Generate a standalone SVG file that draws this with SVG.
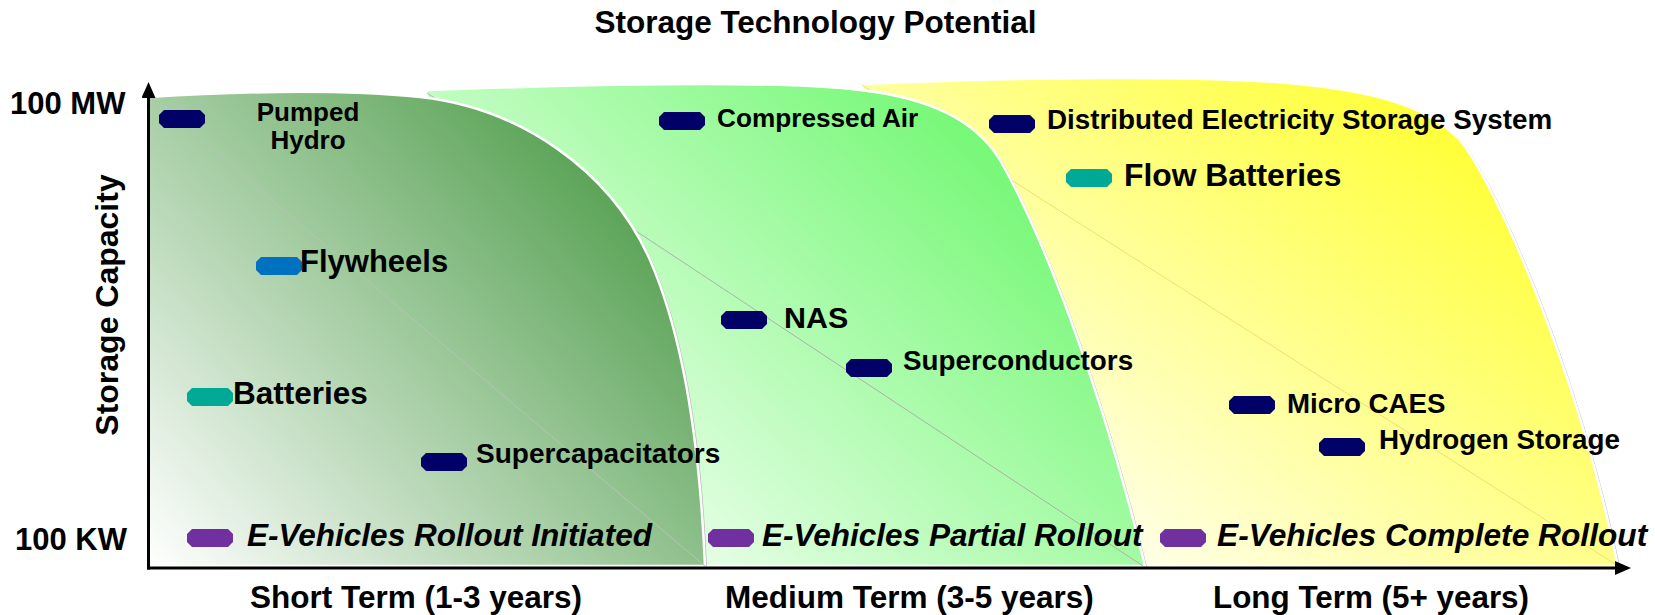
<svg xmlns="http://www.w3.org/2000/svg" width="1655" height="615" viewBox="0 0 1655 615">
<defs>
<style>
text{font-family:"Liberation Sans",Arial,Helvetica,sans-serif;font-weight:bold;fill:#000}
.it{font-style:italic}
.navy{fill:#000066}
.teal{fill:#00a896}
.blue{fill:#0070c0}
.purple{fill:#7030a0}
.shadow{fill:#b8b8b8}
.edge{stroke:#ffffff;stroke-width:2.5}
.diag{fill:none;stroke-width:1}
.axis{stroke:#000;stroke-width:3;fill:none}
</style>
<linearGradient id="gDark" gradientUnits="userSpaceOnUse" x1="148" y1="566" x2="600" y2="150">
<stop offset="0" stop-color="#ffffff"/><stop offset="1" stop-color="#56a152"/>
</linearGradient>
<linearGradient id="gGreen" gradientUnits="userSpaceOnUse" x1="620" y1="566" x2="1010" y2="150">
<stop offset="0" stop-color="#f2fff2"/><stop offset="1" stop-color="#74f874"/>
</linearGradient>
<linearGradient id="gYellow" gradientUnits="userSpaceOnUse" x1="1080" y1="566" x2="1420" y2="120">
<stop offset="0" stop-color="#fffff4"/><stop offset="1" stop-color="#ffff3c"/>
</linearGradient>
<path id="pill" d="M5,0H41L46,5V13L41,18H5L0,13V5Z"/>
<marker id="arrow" markerUnits="userSpaceOnUse" viewBox="0 0 16 14" markerWidth="16" markerHeight="14" refX="1" refY="7" orient="auto">
<path d="M0,0L16,7L0,14Z" fill="#000"/>
</marker>
</defs>

<g id="regions">
<g id="region-long">
<path class="shadow" transform="translate(2,1)" d="M862,84C1000,78 1200,74 1300,84C1380,92 1430,108 1460,140C1500,190 1580,380 1618,566L862,566Z"/>
<path class="edge" fill="url(#gYellow)" d="M862,84C1000,78 1200,74 1300,84C1380,92 1430,108 1460,140C1500,190 1580,380 1618,566L862,566Z"/>
<line class="diag" stroke="#eee070" x1="862" y1="85" x2="1618" y2="566"/>
</g>
<g id="region-medium">
<path class="shadow" transform="translate(2,1)" d="M427,90C600,84 780,80 860,90C930,98 975,120 1000,160C1040,230 1100,380 1145,566L430,566Z"/>
<path class="edge" fill="url(#gGreen)" d="M427,90C600,84 780,80 860,90C930,98 975,120 1000,160C1040,230 1100,380 1145,566L430,566Z"/>
<line class="diag" stroke="#a8b4a8" x1="427" y1="93" x2="1143" y2="566"/>
</g>
<g id="region-short">
<path class="shadow" transform="translate(2,1)" d="M148,97C230,92 330,88 420,97C520,108 610,170 650,260C685,340 700,450 705,566L148,566Z"/>
<path class="edge" fill="url(#gDark)" d="M148,97C230,92 330,88 420,97C520,108 610,170 650,260C685,340 700,450 705,566L148,566Z"/>
<line class="diag" stroke="#b4c4b4" x1="150" y1="97" x2="705" y2="566"/>
</g>
</g>

<g id="axes">
<line class="axis" x1="148.5" y1="569.5" x2="148.5" y2="97" marker-end="url(#arrow)"/>
<line class="axis" x1="147" y1="568" x2="1616" y2="568" marker-end="url(#arrow)"/>
</g>

<g id="labels">
<text x="815.5" y="33" font-size="31.5" text-anchor="middle">Storage Technology Potential</text>
<text x="10" y="114" font-size="31">100 MW</text>
<text x="15" y="550" font-size="31">100 KW</text>
<text transform="translate(118,305) rotate(-90)" font-size="32" text-anchor="middle">Storage Capacity</text>
<text x="250" y="608" font-size="31.5">Short Term (1-3 years)</text>
<text x="725" y="608" font-size="31.5">Medium Term (3-5 years)</text>
<text x="1213" y="608" font-size="31.4">Long Term (5+ years)</text>
</g>

<g id="node-pumped-hydro">
<use href="#pill" class="navy" x="159" y="110"/>
<text x="308" y="121" font-size="26" text-anchor="middle">Pumped</text>
<text x="308" y="149" font-size="26" text-anchor="middle">Hydro</text>
</g>
<g id="node-flywheels">
<use href="#pill" class="blue" x="256" y="257"/>
<text x="300" y="272" font-size="31">Flywheels</text>
</g>
<g id="node-batteries">
<use href="#pill" class="teal" x="187" y="388"/>
<text x="233" y="404" font-size="31.5">Batteries</text>
</g>
<g id="node-supercapacitators">
<use href="#pill" class="navy" x="421" y="453"/>
<text x="476" y="463" font-size="28">Supercapacitators</text>
</g>
<g id="node-ev-initiated">
<use href="#pill" class="purple" x="187" y="529"/>
<text class="it" x="247" y="546" font-size="31.5">E-Vehicles Rollout Initiated</text>
</g>
<g id="node-compressed-air">
<use href="#pill" class="navy" x="659" y="112"/>
<text x="717" y="127" font-size="26.2">Compressed Air</text>
</g>
<g id="node-nas">
<use href="#pill" class="navy" x="721" y="311"/>
<text x="784" y="328" font-size="30.4">NAS</text>
</g>
<g id="node-superconductors">
<use href="#pill" class="navy" x="846" y="359"/>
<text x="903" y="370" font-size="27.8">Superconductors</text>
</g>
<g id="node-ev-partial">
<use href="#pill" class="purple" x="708" y="529"/>
<text class="it" x="762" y="546" font-size="31.5">E-Vehicles Partial Rollout</text>
</g>
<g id="node-dess">
<use href="#pill" class="navy" x="989" y="115"/>
<text x="1047" y="129" font-size="27.8">Distributed Electricity Storage System</text>
</g>
<g id="node-flow-batteries">
<use href="#pill" class="teal" x="1066" y="169"/>
<text x="1124" y="186" font-size="31.8">Flow Batteries</text>
</g>
<g id="node-micro-caes">
<use href="#pill" class="navy" x="1229" y="396"/>
<text x="1287" y="412.5" font-size="27.7">Micro CAES</text>
</g>
<g id="node-hydrogen-storage">
<use href="#pill" class="navy" x="1319" y="438"/>
<text x="1379" y="449" font-size="27.8">Hydrogen Storage</text>
</g>
<g id="node-ev-complete">
<use href="#pill" class="purple" x="1160" y="529"/>
<text class="it" x="1217" y="546" font-size="31.7">E-Vehicles Complete Rollout</text>
</g>
</svg>
